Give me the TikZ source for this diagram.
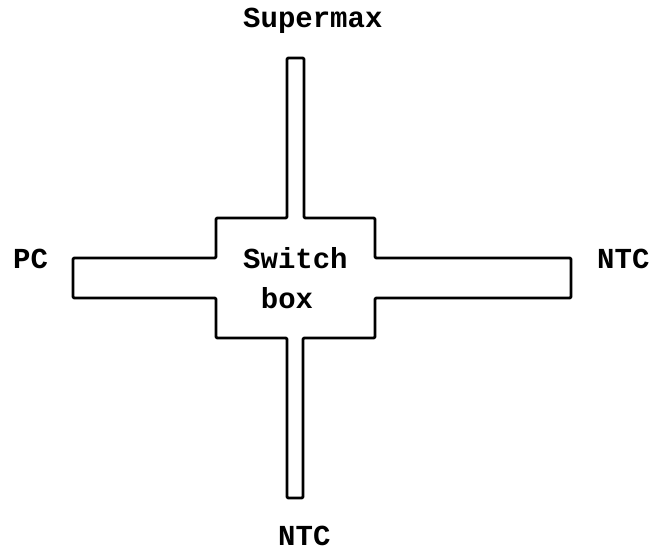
\documentclass[tikz,border=0pt]{standalone}
\usepackage{fontspec}
\setmainfont{Liberation Mono}
\begin{document}
\begin{tikzpicture}[x=1pt,y=-1pt,
  lbl/.style={inner sep=0pt,anchor=base west,font=\fontsize{29}{40}\selectfont\bfseries},
  outline/.style={draw=black,line width=2.8pt,rounded corners=1.2pt,line join=round}]
\useasboundingbox (0,0) rectangle (649,551);
\draw[outline] (287,58) -- (304,58) -- (304,218) -- (375,218) -- (375,258) -- (571,258)
  -- (571,298) -- (375,298) -- (375,338) -- (303,338) -- (303,498) -- (287,498)
  -- (287,338) -- (216,338) -- (216,298) -- (73,298) -- (73,258) -- (216,258)
  -- (216,218) -- (287,218) -- cycle;
\node[lbl] (sup) at (243,28) {Supermax};
\node[lbl] (sw) at (243,268) {Switch};
\node[lbl] (bx) at (260.7,308) {box};
\node[lbl] (pc) at (13,268) {PC};
\node[lbl] (ntcr) at (597,268) {NTC};
\node[lbl] (ntcb) at (278,545) {NTC};
\end{tikzpicture}
\end{document}
